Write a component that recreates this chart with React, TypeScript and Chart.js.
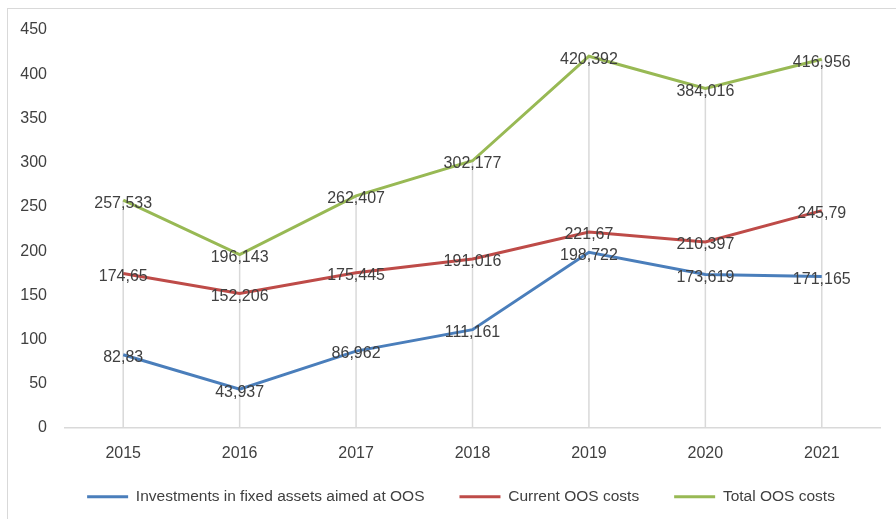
import React, { useEffect, useRef } from "react";
import { Chart, registerables } from "chart.js";

Chart.register(...registerables);

const categories = ["2015", "2016", "2017", "2018", "2019", "2020", "2021"];
const investments = [82.83, 43.937, 86.962, 111.161, 198.722, 173.619, 171.165];
const currentCosts = [174.65, 152.206, 175.445, 191.016, 221.67, 210.397, 245.79];
const totalCosts = [257.533, 196.143, 262.407, 302.177, 420.392, 384.016, 416.956];
const seriesNames = [
  "Investments in fixed assets aimed at OOS",
  "Current OOS costs",
  "Total OOS costs",
];
const seriesColors = ["#4A7EBB", "#BE4B48", "#98B954"];

const FONT = "'Liberation Sans', Arial, sans-serif";

const dropLines = {
  id: "dropLines",
  beforeDatasetsDraw(chart: any) {
    const { ctx, chartArea } = chart;
    const n = chart.data.labels.length;
    ctx.save();
    ctx.strokeStyle = "#d9d9d9";
    ctx.lineWidth = 1.5;
    for (let i = 0; i < n; i++) {
      let minY = Infinity;
      let x = 0;
      chart.data.datasets.forEach((_: any, di: number) => {
        const el = chart.getDatasetMeta(di).data[i];
        if (el) {
          x = el.x;
          if (el.y < minY) minY = el.y;
        }
      });
      ctx.beginPath();
      ctx.moveTo(x, minY);
      ctx.lineTo(x, chartArea.bottom);
      ctx.stroke();
    }
    ctx.restore();
  },
};

const dataLabels = {
  id: "dataLabels",
  afterDatasetsDraw(chart: any) {
    const { ctx } = chart;
    ctx.save();
    ctx.font = `16px ${FONT}`;
    ctx.fillStyle = "#404040";
    ctx.textAlign = "center";
    ctx.textBaseline = "middle";
    chart.data.datasets.forEach((ds: any, di: number) => {
      chart.getDatasetMeta(di).data.forEach((el: any, i: number) => {
        const v = ds.data[i];
        const txt = String(v).replace(".", ",");
        ctx.fillText(txt, el.x, el.y + 3);
      });
    });
    ctx.restore();
  },
};

const legendPatch = {
  id: "legendPatch",
  beforeLayout(chart: any) {
    const lg = chart.legend;
    if (lg && !lg.__patched) {
      const origFit = lg.fit;
      lg.fit = function () {
        origFit.call(this);
        this.height = 61;
      };
      const origDraw = lg.draw;
      lg.draw = function (...args: any[]) {
        const c = this.ctx;
        c.save();
        c.translate(21, -4);
        origDraw.apply(this, args);
        c.restore();
      };
      lg.__patched = true;
    }
  },
};

export default function App() {
  const ref = useRef<HTMLCanvasElement>(null);
  useEffect(() => {
    const chart = new Chart(ref.current!, {
      type: "line",
      data: {
        labels: categories,
        datasets: [investments, currentCosts, totalCosts].map((d, i) => ({
          label: seriesNames[i],
          data: d,
          borderColor: seriesColors[i],
          backgroundColor: seriesColors[i],
          borderWidth: 3,
          pointRadius: 0,
          tension: 0,
          fill: false,
        })),
      },
      options: {
        animation: false,
        responsive: false,
        layout: { padding: { left: 0, right: 16, top: 30, bottom: 0 } },
        scales: {
          x: {
            offset: true,
            grid: { display: false, drawTicks: false },
            border: { display: true, color: "#d9d9d9", width: 1.5 },
            ticks: { color: "#404040", font: { family: FONT, size: 16 }, padding: 16 },
            afterFit(scale: any) {
              scale.height = 30;
            },
          },
          y: {
            min: 0,
            max: 450,
            ticks: { stepSize: 50, color: "#404040", font: { family: FONT, size: 16 }, padding: 18 },
            grid: { display: false, drawTicks: false },
            border: { display: false },
            afterFit(scale: any) {
              scale.width = 65;
            },
          },
        },
        plugins: {
          legend: {
            position: "bottom",
            labels: {
              usePointStyle: true,
              pointStyle: "line",
              pointStyleWidth: 41,
              boxHeight: 15,
              color: "#404040",
              font: { family: FONT, size: 15.5 },
              padding: 35,
            },
          },
          tooltip: { enabled: false },
        },
      },
      plugins: [legendPatch, dropLines, dataLabels],
    });
    return () => chart.destroy();
  }, []);
  return (
    <div>
      <div
        style={{
          position: "fixed",
          left: 7,
          top: 8,
          width: 1000,
          height: 1000,
          border: "1px solid #d9d9d9",
          boxSizing: "border-box",
        }}
      />
      <canvas
        ref={ref}
        width={896}
        height={519}
        style={{ position: "fixed", left: 0, top: 0, width: 896, height: 519 }}
      />
    </div>
  );
}
